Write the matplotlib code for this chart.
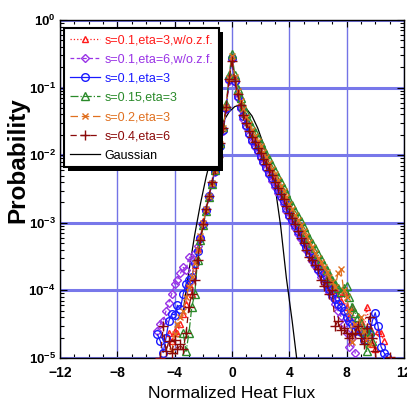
import numpy as np
import matplotlib
matplotlib.use("Agg")
import matplotlib.pyplot as plt
from matplotlib import font_manager
from matplotlib.patches import Rectangle
from matplotlib.transforms import IdentityTransform
from matplotlib.ticker import MultipleLocator, FixedLocator, FuncFormatter, LogLocator, NullFormatter

n = np.nan

# histogram bin centres, -5.2 ... 11.2 in steps of 0.2
x_bins = np.round(np.arange(-5.2, 11.21, 0.2), 1)

# log10 of the probability, one value per bin (nan = empty bin)
logp_s01_eta3_wozf = [
    n, n, n, n, -4.63, -4.75, -4.6, -4.63, -4.5, -4.35,
    -4.2, -3.9, -4.05, -3.62, -3.38, -3.2, -2.98, -2.8, -2.6, -2.41,
    -2.22, -2.04, -1.84, -1.6, -1.28, -0.86, -0.55, -0.86, -1.08, -1.24,
    -1.37, -1.49, -1.6, -1.7, -1.78, -1.86, -1.94, -2.02, -2.1, -2.18,
    -2.27, -2.35, -2.43, -2.52, -2.6, -2.69, -2.78, -2.86, -2.95, -3.03,
    -3.1, -3.18, -3.27, -3.35, -3.42, -3.5, -3.58, -3.65, -3.73, -3.8,
    -3.88, -3.95, -4.0, -4.05, -4.15, -4.03, -4.25, -4.4, -4.25, -4.5,
    -4.6, -4.45, -4.7, -4.24, -4.55, -4.8, -4.87, -4.6, -4.63, -4.75,
    n, n, n]
logp_s01_eta6_wozf = [
    -4.6, -4.5, -4.46, -4.3, -4.18, -4.05, -3.9, -3.84, -3.75, -3.66,
    -3.7, -3.5, -3.55, -3.45, -3.35, -3.22, -3.02, -2.82, -2.62, -2.43,
    -2.25, -2.07, -1.87, -1.64, -1.32, -0.9, -0.58, -0.92, -1.15, -1.32,
    -1.46, -1.58, -1.7, -1.8, -1.88, -1.96, -2.04, -2.12, -2.2, -2.29,
    -2.38, -2.47, -2.56, -2.64, -2.72, -2.82, -2.92, -3.0, -3.08, -3.16,
    -3.24, -3.32, -3.4, -3.48, -3.56, -3.64, -3.72, -3.8, -3.87, -3.95,
    -4.02, -4.1, -4.2, -4.3, -4.38, -4.5, -4.63, -4.83, -4.7, -4.92,
    -5.3, n, n, n, n, n, n, n, n, n,
    n, n, n]
logp_s01_eta3 = [
    -4.65, -4.75, -4.92, -4.7, -4.45, -4.35, -4.36, -4.22, -4.28, -4.05,
    -3.9, -3.84, -3.8, -3.6, -3.42, -3.22, -3.02, -2.81, -2.61, -2.42,
    -2.24, -2.06, -1.86, -1.63, -1.3, -0.88, -0.56, -0.9, -1.12, -1.28,
    -1.42, -1.55, -1.67, -1.77, -1.85, -1.93, -2.01, -2.09, -2.17, -2.26,
    -2.34, -2.43, -2.52, -2.6, -2.68, -2.78, -2.88, -2.96, -3.04, -3.12,
    -3.2, -3.28, -3.36, -3.44, -3.52, -3.6, -3.68, -3.75, -3.82, -3.9,
    -3.98, -4.05, -4.12, -4.2, -4.24, -4.3, -4.39, -4.45, -4.5, -4.6,
    -4.55, -4.62, -4.73, -4.58, -4.65, -4.45, -4.33, -4.53, -4.83, -4.92,
    -4.98, -5.1, n]
logp_s015_eta3 = [
    n, n, n, n, n, n, n, n, n, -4.63,
    -4.9, -4.63, -4.24, -4.06, -3.55, -3.25, -3.04, -2.82, -2.62, -2.42,
    -2.22, -2.03, -1.82, -1.58, -1.25, -0.82, -0.5, -0.82, -1.02, -1.16,
    -1.27, -1.38, -1.49, -1.58, -1.66, -1.74, -1.82, -1.9, -1.98, -2.06,
    -2.15, -2.23, -2.32, -2.4, -2.48, -2.56, -2.66, -2.74, -2.82, -2.9,
    -2.98, -3.06, -3.14, -3.22, -3.3, -3.38, -3.46, -3.54, -3.62, -3.7,
    -3.78, -3.84, -3.9, -3.96, -4.02, -3.96, -3.94, -4.1, -4.25, -4.33,
    -4.4, -4.5, -4.62, -4.9, -4.6, -4.75, n, n, n, n,
    n, n, n]
logp_s02_eta3 = [
    n, n, n, n, n, -4.9, -4.65, -4.5, -4.4, -4.3,
    -4.1, -3.95, -3.8, -3.6, -3.4, -3.2, -3.0, -2.8, -2.6, -2.41,
    -2.22, -2.04, -1.84, -1.6, -1.28, -0.86, -0.54, -0.85, -1.05, -1.2,
    -1.32, -1.43, -1.54, -1.63, -1.71, -1.79, -1.87, -1.95, -2.03, -2.11,
    -2.2, -2.28, -2.37, -2.45, -2.53, -2.62, -2.72, -2.8, -2.88, -2.96,
    -3.04, -3.12, -3.2, -3.28, -3.36, -3.44, -3.52, -3.58, -3.66, -3.73,
    -3.8, -3.88, -3.95, -3.75, -3.69, -4.0, -4.1, -4.3, -4.77, -4.5,
    -4.55, -4.4, -4.6, -4.7, -4.8, n, n, n, n, n,
    n, n, n]
logp_s04_eta6 = [
    n, -5.0, -4.53, -4.9, -4.75, -4.92, -4.73, -4.87, -4.8, -4.87,
    -4.63, -4.24, -4.05, -3.85, -3.55, -3.25, -3.02, -2.8, -2.6, -2.4,
    -2.2, -2.02, -1.82, -1.6, -1.28, -0.88, -0.6, -0.9, -1.1, -1.26,
    -1.4, -1.52, -1.64, -1.73, -1.81, -1.89, -1.97, -2.05, -2.13, -2.22,
    -2.3, -2.39, -2.48, -2.57, -2.65, -2.75, -2.85, -2.93, -3.02, -3.12,
    -3.22, -3.3, -3.4, -3.5, -3.55, -3.62, -3.69, -3.85, -3.94, -3.88,
    -4.06, -4.0, -4.53, -4.45, -4.58, -4.55, -4.63, -4.7, -4.65, -4.63,
    -4.53, -4.7, -4.8, -4.55, -4.39, -4.7, -4.9, -5.3, n, n,
    n, -4.98, n]

gauss_x = [-3.4, -3.0, -2.6, -2.2, -1.8, -1.4, -1.0, -0.6, -0.2, 0.2, 0.6,
           1.0, 1.4, 1.8, 2.2, 2.6, 3.0, 3.4, 3.8, 4.2, 4.6]
gauss_logp = [-4.30, -3.71, -3.18, -2.72, -2.32, -1.98, -1.71, -1.50, -1.36, -1.28, -1.26,
              -1.31, -1.42, -1.60, -1.84, -2.14, -2.45, -3.05, -3.82, -4.45, -5.15]

series = [logp_s01_eta3_wozf, logp_s01_eta6_wozf, logp_s01_eta3,
          logp_s015_eta3, logp_s02_eta3, logp_s04_eta6]
labels = ["s=0.1,eta=3,w/o.z.f.", "s=0.1,eta=6,w/o.z.f.", "s=0.1,eta=3",
          "s=0.15,eta=3", "s=0.2,eta=3", "s=0.4,eta=6"]
colors = ["#ff1a1a", "#9933e6", "#1a1aff", "#2a8a2a", "#e07020", "#8b0a0a"]
markers = ["^", "D", "o", "^", "x", "+"]
msizes = [5, 4, 5.5, 5.5, 5, 7]
lstyles = [":", (0, (3, 2)), "-", "-.", (0, (6, 3)), (0, (5, 3))]

for s in series:
    assert len(s) == len(x_bins)

names = {f.name for f in font_manager.fontManager.ttflist}
narrow = "Liberation Sans Narrow" if "Liberation Sans Narrow" in names else "Liberation Sans"

plt.rcParams["font.family"] = ["Liberation Sans", "DejaVu Sans"]
plt.rcParams["mathtext.fontset"] = "custom"
plt.rcParams["mathtext.rm"] = "Liberation Sans"
plt.rcParams["mathtext.bf"] = "Liberation Sans:bold"

fig = plt.figure(figsize=(4.07, 4.07), dpi=100)
ax = fig.add_axes([0.1474, 0.1204, 0.845, 0.8305])

for vals, lab, c, m, ms, ls in zip(series, labels, colors, markers, msizes, lstyles):
    y = 10 ** np.array(vals, dtype=float)
    ax.plot(x_bins, y, linestyle=ls, color=c, lw=0.9, marker=m, ms=ms,
            mfc="none", mec=c, mew=1.0, label=lab, zorder=3)

ax.plot(gauss_x, 10 ** np.array(gauss_logp), color="black", lw=0.9,
        label="Gaussian", zorder=2.5)

ax.set_yscale("log")
ax.set_xlim(-12, 12)
ax.set_ylim(1e-5, 1)

ax.xaxis.set_major_locator(MultipleLocator(4))
ax.xaxis.set_minor_locator(MultipleLocator(1))
ax.yaxis.set_major_locator(FixedLocator([1e-5, 1e-4, 1e-3, 1e-2, 1e-1, 1]))
ax.yaxis.set_minor_locator(LogLocator(base=10, subs=np.arange(2, 10)))
ax.yaxis.set_minor_formatter(NullFormatter())
ax.yaxis.set_major_formatter(FuncFormatter(
    lambda v, p: r"$\mathbf{10^{%d}}$" % int(round(np.log10(v)))))

ax.tick_params(which="both", direction="in", top=True, right=True, width=0.8)
ax.tick_params(which="major", length=5)
ax.tick_params(which="minor", length=3)
ax.tick_params(axis="x", labelsize=10, pad=6)
ax.tick_params(axis="y", labelsize=9.5, pad=3)
for t in ax.get_xticklabels():
    t.set_fontweight("bold")
    t.set_family(narrow)

ax.set_axisbelow(True)
ax.grid(axis="x", which="major", color="#7373e6", lw=1.0)
ax.grid(axis="y", which="major", color="#7878ea", lw=2.2)

for sp in ax.spines.values():
    sp.set_color("black")
    sp.set_linewidth(1.0)

ax.set_xlabel("Normalized Heat Flux", fontsize=12.5, family=narrow, labelpad=4)
ax.set_ylabel("Probability", fontsize=17.5, fontweight="bold")
ax.yaxis.set_label_coords(-0.088, 0.585)

leg = ax.legend(loc="upper left", bbox_to_anchor=(0.012, 0.975), borderaxespad=0,
                fontsize=9, handlelength=2.4, handletextpad=0.4, labelspacing=0.58,
                borderpad=0.45, fancybox=False, framealpha=1, edgecolor="black")
leg.get_frame().set_linewidth(1.5)
for txt, c in zip(leg.get_texts(), colors + ["black"]):
    txt.set_color(c)

# heavy black drop shadow behind the legend box
fig.canvas.draw()
bb = leg.get_window_extent()
shadow = Rectangle((bb.x0 + 4, bb.y0 - 4), bb.width, bb.height, transform=IdentityTransform(),
                   facecolor="black", edgecolor="none", zorder=leg.get_zorder() - 0.1,
                   clip_on=False)
ax.add_patch(shadow)

fig.savefig("out.png", dpi=100)
